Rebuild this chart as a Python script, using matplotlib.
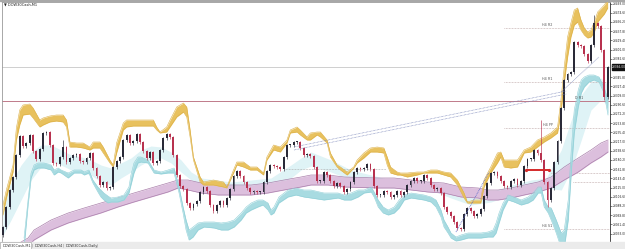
import matplotlib
matplotlib.use("Agg")
import matplotlib.pyplot as plt
from matplotlib.patches import Rectangle

# ---------------- data (DOW30Cash, M1) ----------------
first_open = 23030
closes = [23046, 23086, 23120, 23146, 23190, 23228, 23208, 23214, 23230, 23198,
          23182, 23202, 23234, 23236, 23210, 23174, 23172, 23186, 23206, 23176,
          23184, 23190, 23192, 23178, 23176, 23184, 23194, 23164, 23148, 23130,
          23136, 23124, 23126, 23166, 23178, 23186, 23220, 23230, 23214, 23218,
          23232, 23216, 23198, 23184, 23196, 23174, 23178, 23200, 23224, 23232,
          23226, 23190, 23150, 23128, 23122, 23094, 23084, 23092, 23098, 23116,
          23126, 23118, 23090, 23078, 23090, 23098, 23090, 23104, 23122, 23148,
          23158, 23148, 23136, 23124, 23116, 23118, 23116, 23116, 23136, 23158,
          23170, 23168, 23166, 23162, 23186, 23210, 23210, 23216, 23216, 23204,
          23190, 23192, 23188, 23166, 23138, 23138, 23156, 23150, 23138, 23128,
          23134, 23128, 23116, 23122, 23136, 23156, 23164, 23162, 23164, 23172,
          23162, 23128, 23110, 23110, 23118, 23116, 23106, 23110, 23118, 23110,
          23116, 23130, 23138, 23144, 23138, 23138, 23150, 23144, 23130, 23122,
          23124, 23114, 23086, 23076, 23068, 23056, 23044, 23042, 23072, 23084,
          23078, 23068, 23072, 23082, 23108, 23134, 23154, 23156, 23148, 23138,
          23128, 23126, 23138, 23142, 23130, 23138, 23168, 23182, 23182, 23200,
          23194, 23180, 23136, 23100, 23124, 23176, 23218, 23284, 23340, 23352,
          23356, 23416, 23410, 23408, 23392, 23378, 23410, 23454, 23448, 23400,
          23306, 23366]
spike_bars = [18, 161, 177]
spike_highs = [23220, 23260, 23470]
dip_bars = [163, 180]
dip_lows = [23086, 23300]

gold_bar = [0, 1, 3, 4, 5, 6, 8, 9, 11, 12, 14, 16, 18, 19, 20, 22, 24, 26, 27, 29,
            30, 32, 33, 34, 36, 37, 39, 43, 45, 46, 47, 49, 50, 52, 54, 55, 56, 57, 59, 60,
            63, 66, 67, 69, 70, 72, 74, 76, 78, 79, 81, 83, 85, 86, 88, 89, 91, 92, 94, 95,
            97, 98, 100, 101, 103, 105, 106, 108, 110, 112, 114, 115, 116, 118, 119, 121, 124, 126, 128, 130,
            132, 134, 136, 138, 139, 141, 143, 144, 146, 148, 149, 150, 152, 154, 156, 158, 160, 162, 164, 166,
            167, 168, 169, 170, 171, 172, 173, 174, 175, 176, 177, 178, 180, 181]
gold_hi = [23090, 23120, 23170, 23244, 23280, 23290, 23292, 23284, 23260, 23264,
           23268, 23270, 23270, 23260, 23216, 23214, 23214, 23206, 23216, 23216,
           23206, 23180, 23170, 23214, 23254, 23260, 23260, 23260, 23260, 23246,
           23236, 23246, 23260, 23286, 23294, 23286, 23240, 23186, 23146, 23136,
           23140, 23136, 23126, 23160, 23176, 23176, 23166, 23166, 23154, 23186,
           23210, 23206, 23220, 23240, 23246, 23240, 23226, 23234, 23236, 23236,
           23220, 23194, 23170, 23166, 23156, 23166, 23180, 23194, 23204, 23206,
           23204, 23186, 23166, 23156, 23154, 23154, 23156, 23156, 23160, 23160,
           23156, 23154, 23140, 23114, 23096, 23100, 23100, 23140, 23166, 23194,
           23196, 23180, 23180, 23180, 23200, 23206, 23220, 23226, 23234, 23246,
           23300, 23366, 23426, 23454, 23480, 23484, 23460, 23444, 23436, 23440,
           23456, 23476, 23490, 23500]
gold_lo = [23070, 23104, 23156, 23220, 23250, 23270, 23272, 23264, 23246, 23250,
           23256, 23258, 23256, 23246, 23206, 23206, 23204, 23200, 23204, 23204,
           23194, 23174, 23166, 23194, 23240, 23246, 23248, 23248, 23248, 23240,
           23234, 23236, 23246, 23266, 23276, 23266, 23226, 23180, 23136, 23130,
           23130, 23126, 23124, 23154, 23170, 23166, 23160, 23160, 23150, 23180,
           23200, 23196, 23214, 23234, 23236, 23230, 23220, 23220, 23230, 23226,
           23214, 23186, 23166, 23160, 23150, 23164, 23174, 23184, 23196, 23196,
           23194, 23170, 23154, 23150, 23150, 23146, 23150, 23154, 23154, 23154,
           23150, 23146, 23130, 23104, 23094, 23094, 23094, 23126, 23154, 23174,
           23186, 23166, 23164, 23166, 23194, 23196, 23206, 23216, 23224, 23234,
           23274, 23334, 23386, 23426, 23450, 23456, 23440, 23430, 23424, 23426,
           23436, 23456, 23472, 23484]

cyan_bar = [6.3, 7.5, 8.4, 9.3, 10.5, 12.3, 14.4, 15.3, 16.5, 17.4,
            19.5, 21.3, 23.4, 24.3, 25.7, 26.9, 28.4, 29.3, 30.2, 31.4,
            32.3, 34.4, 36.2, 37.7, 38.3, 39.2, 40.4, 41.3, 43.4, 45.2,
            47.3, 49.4, 51.2, 52.7, 53.9, 54.8, 55.7, 56.9, 58.4, 60.2,
            63.2, 65.3, 67.4, 69.2, 71.3, 72.8, 74.3, 76.3, 77.8, 79.3,
            80.2, 81.1, 82.6, 85.3, 87.7, 90.1, 92.2, 96.1, 100.3, 102.1,
            104.2, 106.3, 108.1, 110.2, 111.1, 112.3, 113.8, 115.3, 117.1, 118.6,
            120.1, 122.2, 126.0, 128.1, 129.6, 131.1, 132.0, 133.2, 134.1, 135.6,
            137.1, 139.2, 143.1, 145.2, 146.7, 147.6, 148.5, 149.7, 151.2, 153.0,
            155.1, 157.2, 158.7, 160.2, 161.1, 162.0, 163.2, 164.1, 165.6, 167.1,
            168.0, 169.2, 170.1, 171.0, 172.2, 173.1, 174.0, 175.4, 176.9, 178.4,
            179.9, 181.1]
cyan_hi = [23024, 23100, 23154, 23170, 23174, 23174, 23170, 23160, 23164, 23160,
           23154, 23160, 23160, 23156, 23160, 23140, 23126, 23120, 23114, 23108,
           23104, 23106, 23110, 23126, 23150, 23174, 23186, 23186, 23180, 23160,
           23156, 23160, 23164, 23126, 23086, 23060, 23040, 23046, 23054, 23056,
           23056, 23054, 23056, 23060, 23074, 23086, 23094, 23100, 23100, 23094,
           23080, 23086, 23106, 23120, 23124, 23120, 23120, 23114, 23114, 23110,
           23114, 23120, 23120, 23126, 23116, 23100, 23086, 23080, 23086, 23100,
           23110, 23114, 23110, 23106, 23100, 23080, 23060, 23046, 23034, 23026,
           23030, 23034, 23034, 23036, 23040, 23054, 23074, 23094, 23110, 23106,
           23100, 23106, 23114, 23126, 23126, 23100, 23086, 23084, 23060, 23034,
           23040, 23100, 23200, 23280, 23320, 23340, 23346, 23350, 23350, 23346,
           23326, 23300]
cyan_lo = [23004, 23090, 23144, 23160, 23164, 23164, 23160, 23150, 23156, 23154,
           23144, 23154, 23154, 23150, 23154, 23134, 23116, 23106, 23100, 23094,
           23096, 23096, 23100, 23114, 23130, 23154, 23174, 23176, 23174, 23154,
           23152, 23154, 23154, 23114, 23074, 23040, 23020, 23026, 23040, 23046,
           23044, 23040, 23040, 23046, 23060, 23074, 23080, 23086, 23090, 23080,
           23070, 23074, 23094, 23106, 23110, 23106, 23104, 23100, 23104, 23100,
           23100, 23106, 23114, 23116, 23106, 23086, 23074, 23070, 23074, 23084,
           23100, 23104, 23100, 23096, 23086, 23066, 23046, 23034, 23024, 23018,
           23020, 23024, 23024, 23026, 23026, 23034, 23054, 23080, 23100, 23096,
           23090, 23094, 23100, 23114, 23114, 23086, 23074, 23060, 23034, 23004,
           23004, 23060, 23154, 23234, 23286, 23314, 23326, 23336, 23340, 23336,
           23314, 23270]

pale_bar = [0, 2.4, 5.4, 8.4, 11.4, 14.4, 17.4, 20.4, 23.4, 26.3, 29.3, 32.3, 35.3, 38.3,
            41.3, 44.3, 47.3, 50.3, 53.3, 56.3, 59.3, 68.3, 80.2, 86.2, 89.2, 92.2, 98.2,
            104.2, 110.2, 116.2, 122.2, 128.1, 134.1, 140.1, 146.1, 152.1, 158.1, 162.6,
            167.1, 170.1, 173.1, 176.0, 179.0, 181.1]
pale_hi = [23100, 23134, 23170, 23196, 23210, 23210, 23200, 23190, 23186, 23180, 23170, 23164,
           23174, 23184, 23200, 23208, 23206, 23196, 23180, 23156, 23144, 23136, 23144, 23170,
           23184, 23196, 23180, 23160, 23150, 23140, 23140, 23136, 23120, 23110, 23116, 23130,
           23140, 23144, 23200, 23260, 23310, 23336, 23344, 23330]
pale_lo = [23030, 23060, 23100, 23140, 23166, 23176, 23170, 23160, 23156, 23150, 23136, 23130,
           23144, 23156, 23170, 23180, 23184, 23174, 23156, 23140, 23128, 23120, 23124, 23144,
           23160, 23168, 23156, 23140, 23134, 23124, 23124, 23120, 23104, 23090, 23096, 23110,
           23120, 23124, 23120, 23160, 23220, 23280, 23300, 23290]

purple_bar = [5.4, 7.5, 9.3, 14.4, 19.5, 24.3, 29.3, 34.4, 39.2, 44.3, 49.4, 52.4, 55.4, 59.3,
              64.4, 74.3, 79.3, 84.1, 89.2, 92.2, 97.3, 102.1, 112.3, 117.1, 122.2, 127.2,
              132.0, 137.1, 142.2, 145.2, 148.2, 152.1, 156.0, 160.2, 164.1, 168.0, 172.2,
              176.0, 179.0, 181.1]
purple_hi = [23016, 23024, 23040, 23060, 23074, 23084, 23094, 23104, 23114, 23124, 23134, 23140,
             23140, 23134, 23130, 23130, 23134, 23140, 23146, 23150, 23150, 23146, 23144, 23144,
             23140, 23136, 23134, 23126, 23124, 23120, 23120, 23124, 23130, 23136, 23146, 23166,
             23184, 23200, 23214, 23220]
purple_lo = [23000, 23008, 23020, 23040, 23054, 23064, 23074, 23086, 23096, 23106, 23116, 23124,
             23120, 23114, 23110, 23110, 23114, 23120, 23126, 23130, 23130, 23126, 23124, 23124,
             23120, 23116, 23114, 23106, 23104, 23100, 23100, 23104, 23110, 23116, 23124, 23140,
             23156, 23174, 23186, 23196]

resistance_level = 23298
trend_bars = [87.1, 168.6]
trend_a = [23206, 23318]
trend_b = [23200, 23312]
trend2_bars = [167.1, 178.4]
trend2_vals = [23316, 23386]
zig_bars = [135.6, 145.5]
zig_vals = [23036, 23156]
mid_dotted_bars = [84.1, 114.7]
mid_dotted_val = 23162
level_names = ["H4 R2", "H4 R1", "H4 PP", "", "", "H4 S1"]
level_vals = [23444, 23336, 23244, 23154, 23136, 23042]
level_start = [150.0, 150.0, 150.0, 164.1, 170.7, 150.0]
daily_label = "D R1"
red_bars = [156.6, 163.5]
red_val = 23160
price_ticks = [23493.0, 23474.6, 23456.2, 23437.8, 23419.4, 23401.0, 23382.6,
               23345.8, 23327.4, 23309.0, 23290.6, 23272.2, 23253.8, 23235.4, 23217.0,
               23198.6, 23180.2, 23161.8, 23143.4, 23125.0, 23106.6, 23088.2, 23069.8,
               23051.4, 23033.0]
tabs = ["DOW30Cash,M1", "DOW30Cash,H4", "DOW30Cash,Daily"]
title = "DOW30Cash,M1"

# ---------------- figure ----------------
W, H = 625, 249
fig = plt.figure(figsize=(W / 100, H / 100), dpi=100)
fig.patch.set_facecolor("white")
ax = fig.add_axes([2 / W, 7 / H, 608 / W, 240 / H])
ax.set_xlim(-0.3, 181.7)
ax.set_ylim(23016, 23496)
ax.set_facecolor("white")

# bands
ax.fill_between(pale_bar, pale_lo, pale_hi, color="#dff3f6", lw=0, zorder=1)
ax.fill_between(purple_bar, purple_lo, purple_hi, color="#dcbfdd", lw=0, zorder=2)
ax.plot(purple_bar, purple_hi, color="#ab80ac", lw=0.5, zorder=2)
ax.plot(purple_bar, purple_lo, color="#ab80ac", lw=0.5, zorder=2)
ax.fill_between(cyan_bar, cyan_lo, cyan_hi, color="#a8dbe1", lw=0, zorder=3)
ax.plot(cyan_bar, cyan_hi, color="#8fcfd7", lw=0.4, zorder=3)
ax.plot(cyan_bar, cyan_lo, color="#8fcfd7", lw=0.4, zorder=3)
ax.fill_between(gold_bar, gold_lo, gold_hi, color="#e8c15e", lw=0, zorder=3)
ax.plot(gold_bar, gold_hi, color="#dcb047", lw=0.4, zorder=3)
ax.plot(gold_bar, gold_lo, color="#dcb047", lw=0.4, zorder=3)

# horizontal lines
ax.axhline(resistance_level, color="#c07a8a", lw=0.7, zorder=1.5)
ax.axhline(closes[-1], color="#c8c8c8", lw=0.6, zorder=1.5)
for name, val, start in zip(level_names, level_vals, level_start):
    ax.plot([start, 181.7], [val, val], color="#b49a9a", lw=0.5,
            linestyle=(0, (1, 1.2)), zorder=1.6)
    if name:
        ax.text(163.0, val + 2, name, fontsize=2.4, color="#555555",
                ha="center", va="bottom", zorder=7)
ax.text(172.5, resistance_level + 2, daily_label, fontsize=2.4, color="#555555",
        ha="center", va="bottom", zorder=7)
ax.plot(mid_dotted_bars, [mid_dotted_val, mid_dotted_val], color="#a0a0a0",
        lw=0.5, linestyle=(0, (1, 1.2)), zorder=1.6)

# trend lines
ax.plot(trend_bars, trend_a, color="#7884b8", lw=0.5, linestyle=(0, (1, 1)), zorder=6)
ax.plot(trend_bars, trend_b, color="#7884b8", lw=0.5, linestyle=(0, (1, 1)), zorder=6)
ax.plot(trend2_bars, trend2_vals, color="#7884b8", lw=0.5, linestyle=(0, (1, 1)), zorder=6)
ax.plot(zig_bars, zig_vals, color="#5a6ac8", lw=0.6, linestyle=(0, (1, 1)), zorder=6)

# candles
opens = [first_open] + closes[:-1]
highs = [max(o, c) + 3 for o, c in zip(opens, closes)]
lows = [min(o, c) - 3 for o, c in zip(opens, closes)]
for b, h in zip(spike_bars, spike_highs):
    highs[b] = h
for b, l in zip(dip_bars, dip_lows):
    lows[b] = l
xs = list(range(len(closes)))
cols = ["#2a2a38" if c >= o else "#b8324f" for o, c in zip(opens, closes)]
ax.vlines(xs, lows, highs, colors=cols, lw=0.45, zorder=5)
ax.bar(xs, [max(abs(c - o), 1.5) for o, c in zip(opens, closes)],
       bottom=[min(o, c) for o, c in zip(opens, closes)], width=0.55,
       color=cols, linewidth=0, zorder=5)

# red segment
ax.plot(red_bars, [red_val, red_val], color="#d42a2a", lw=1.4, zorder=6,
        solid_capstyle="butt")
ax.plot(red_bars, [red_val, red_val], "o", color="#d42a2a", ms=1.3, zorder=6)

# axes styling
for s in ["left", "top", "bottom"]:
    ax.spines[s].set_color("#9a9a9a")
    ax.spines[s].set_linewidth(0.6)
ax.spines["right"].set_color("#303030")
ax.spines["right"].set_linewidth(0.6)
ax.set_xticks([])
ax.yaxis.tick_right()
ax.set_yticks(price_ticks)
ax.set_yticklabels([f"{v:.2f}" for v in price_ticks])
ax.tick_params(axis="y", labelsize=2.1, length=1.2, width=0.4, pad=0.6,
               colors="#202020")

# current price box
ax.annotate(f"{closes[-1]:.2f}", xy=(1.0, closes[-1]), xycoords=("axes fraction", "data"),
            xytext=(1.6, 0), textcoords="offset points", fontsize=2.1, color="white",
            va="center", ha="left",
            bbox=dict(boxstyle="square,pad=0.2", fc="#101010", ec="#101010"),
            annotation_clip=False, zorder=8)

# title
fig.text(4 / W, 1 - 4 / H, "▼ " + title, fontsize=2.6, color="#202020",
         ha="left", va="center")

# top border
fig.patches.append(Rectangle((0, 1 - 1.5 / H), 1, 1.5 / H, transform=fig.transFigure,
                             color="#a8a8a8", zorder=0))
# bottom tab bar
fig.patches.append(Rectangle((0, 0), 1, 7 / H, transform=fig.transFigure,
                             color="#ebebeb", zorder=0))
fig.patches.append(Rectangle((0, 0), 31 / W, 7 / H, transform=fig.transFigure,
                             fc="white", ec="#9a9a9a", lw=0.4, zorder=1))
tab_x = [3, 35, 66]
for tx, name in zip(tab_x, tabs):
    fig.text(tx / W, 3.5 / H, name, fontsize=2.5, color="#303030", ha="left", va="center")
for sx in [32, 63, 97]:
    fig.text(sx / W, 3.5 / H, "|", fontsize=2.5, color="#707070", ha="center", va="center")

fig.savefig("out.png", dpi=100, facecolor="white")
